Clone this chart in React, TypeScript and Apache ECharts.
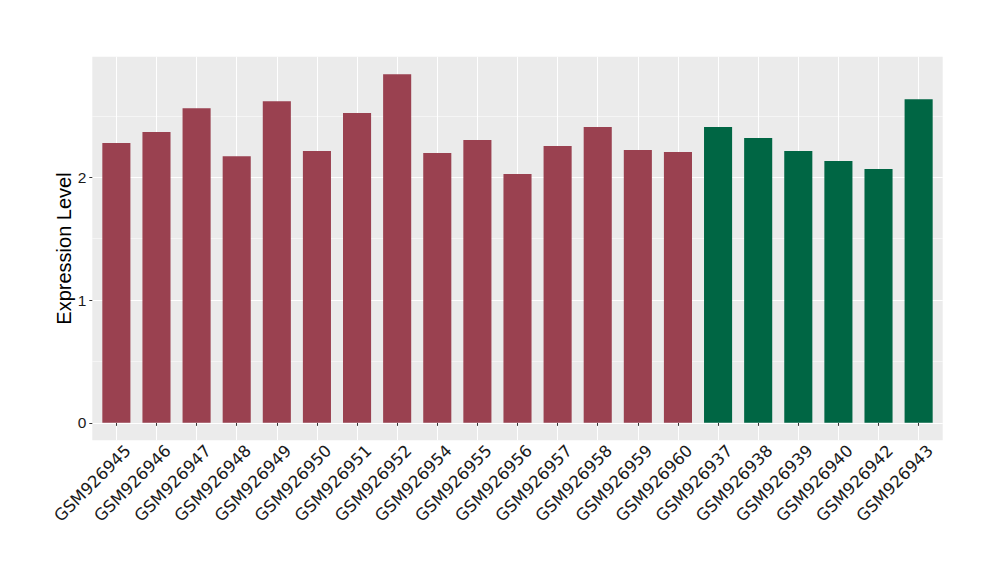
import React, { useEffect, useRef } from "react";
import * as echarts from "echarts";

const categories = [
  "GSM926945", "GSM926946", "GSM926947", "GSM926948", "GSM926949", "GSM926950",
  "GSM926951", "GSM926952", "GSM926954", "GSM926955", "GSM926956", "GSM926957",
  "GSM926958", "GSM926959", "GSM926960", "GSM926937", "GSM926938", "GSM926939",
  "GSM926940", "GSM926942", "GSM926943",
];
const values = [
  2.279, 2.369, 2.564, 2.173, 2.621, 2.214, 2.524, 2.841, 2.198, 2.304, 2.027,
  2.255, 2.41, 2.222, 2.206, 2.41, 2.32, 2.214, 2.133, 2.068, 2.637,
];
const groups = [
  "A", "A", "A", "A", "A", "A", "A", "A", "A", "A", "A", "A", "A", "A", "A",
  "B", "B", "B", "B", "B", "B",
];
const groupColors: Record<string, string> = { A: "#9A4150", B: "#006644" };
const yTicks = [0, 1, 2];
const yMinorTicks = [0.5, 1.5, 2.5];
const yMin = -0.142;
const yMax = 2.983;

export default function App() {
  const ref = useRef<HTMLDivElement>(null);
  useEffect(() => {
    if (!ref.current) return;
    const chart = echarts.init(ref.current, undefined, { renderer: "svg" });
    const panelLeft = 92.3;
    const panelTop = 56.7;
    const panelW = 850.4;
    const panelH = 383.6;
    const unit = panelW / (categories.length + 0.2);
    const barGridLeft = panelLeft + 0.1 * unit;
    const barGridW = categories.length * unit;
    chart.setOption({
      animation: false,
      graphic: [
        {
          type: "rect",
          z: -100,
          shape: { x: panelLeft, y: panelTop, width: panelW, height: panelH },
          style: { fill: "#EBEBEB" },
          silent: true,
        },
      ],
      grid: [
        { left: panelLeft, top: panelTop, width: panelW, height: panelH, containLabel: false },
        { left: barGridLeft, top: panelTop, width: barGridW, height: panelH, containLabel: false },
      ],
      xAxis: [
        { type: "value", gridIndex: 0, min: 0, max: 1, show: false },
        {
          type: "category",
          gridIndex: 1,
          data: categories,
          axisLine: { show: false },
          axisTick: {
            show: true,
            alignWithLabel: true,
            length: 3,
            lineStyle: { color: "#333333", width: 1 },
          },
          splitLine: {
            show: true,
            alignWithLabel: true,
            lineStyle: { color: "#FFFFFF", width: 1.07 },
          },
          axisLabel: {
            interval: 0,
            rotate: 45,
            margin: -4,
            align: "right",
            verticalAlign: "top",
            padding: [8, 0, 0, 0],
            fontFamily: "DejaVu Sans",
            fontSize: 16.5,
            color: "#1A1A1A",
          },
        },
      ],
      yAxis: [
        {
          type: "value",
          gridIndex: 0,
          min: yMin,
          max: yMax,
          axisLine: { show: false },
          axisTick: {
            show: true,
            length: 3,
            customValues: yTicks,
            lineStyle: { color: "#333333", width: 1 },
          },
          axisLabel: {
            customValues: yTicks,
            margin: 6,
            fontFamily: "Liberation Sans",
            fontSize: 15.5,
            color: "#1A1A1A",
          },
          splitLine: { show: true, lineStyle: { color: "#FFFFFF", width: 1.07 } },
          name: "Expression Level",
          nameLocation: "middle",
          nameGap: 18,
          nameMoveOverlap: false,
          nameTextStyle: { fontFamily: "Liberation Sans", fontSize: 20, color: "#000000" },
        },
        {
          type: "value",
          gridIndex: 0,
          min: yMin,
          max: yMax,
          axisLine: { show: false },
          axisTick: { show: false, customValues: yMinorTicks },
          axisLabel: { show: false, customValues: yMinorTicks },
          splitLine: { show: true, lineStyle: { color: "#FFFFFF", width: 0.53 } },
        },
        { type: "value", gridIndex: 1, min: yMin, max: yMax, show: false, splitLine: { show: false } },
      ],
      series: [
        {
          type: "bar",
          xAxisIndex: 1,
          yAxisIndex: 2,
          barWidth: "70%",
          data: values.map((v, i) => ({ value: v, itemStyle: { color: groupColors[groups[i]] } })),
        },
      ],
    });
    return () => chart.dispose();
  }, []);
  return (
    <div
      ref={ref}
      style={{ position: "fixed", left: 0, top: 0, width: 1000, height: 580, background: "#FFFFFF" }}
    />
  );
}
